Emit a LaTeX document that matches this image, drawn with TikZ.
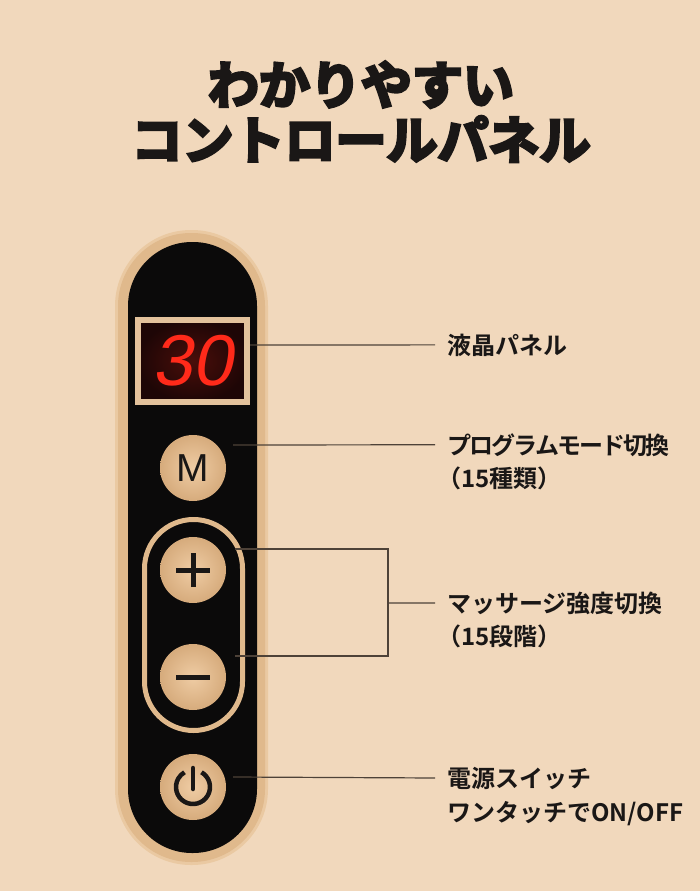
\documentclass[tikz,border=0pt]{standalone}
\usepackage{fontspec}
\setmainfont{Noto Sans CJK JP}
\newfontfamily\titlefont{Noto Sans CJK JP Bold}
\newfontfamily\lblfont{Noto Sans CJK JP Bold}
\newfontfamily\digitfont{Liberation Sans}[FakeSlant=0.18]
\newfontfamily\keyfont{Liberation Sans}
\newcommand\heavytext[1]{\special{pdf:literal direct 2 Tr 3 w}#1\special{pdf:literal direct 0 Tr}}
\newcommand\tk{\kern-2pt}
\usetikzlibrary{positioning}
\definecolor{bg}{HTML}{F1D8BC}
\definecolor{rim}{HTML}{E0B98C}
\definecolor{rimedge}{HTML}{EAC9A2}
\definecolor{body}{HTML}{0B0A0A}
\definecolor{lcdframe}{HTML}{E3C29C}
\definecolor{lcdin}{HTML}{4A0E0A}
\definecolor{lcdout}{HTML}{1E0606}
\definecolor{segred}{HTML}{FF2A1A}
\definecolor{btnlight}{HTML}{EFCCA4}
\definecolor{btndark}{HTML}{D6AB7C}
\definecolor{leadcol}{HTML}{4E4238}
\definecolor{ink}{HTML}{1A1716}

\begin{document}
\begin{tikzpicture}[x=1pt,y=-1pt,
    btn/.style={circle,minimum size=66pt,inner sep=0pt,
      inner color=btnlight,outer color=btndark},
    sym/.style={draw=ink,line width=5pt},
    lead/.style={draw=leadcol,line width=1.2pt},
    lbl/.style={anchor=base west,inner xsep=12pt,inner ysep=0pt,
      text=ink,font=\lblfont\fontsize{24}{24}\selectfont},
    ttl/.style={anchor=base,inner sep=0pt,text=ink,
      font=\titlefont\fontsize{51}{51}\selectfont}]
  \fill[bg] (0,0) rectangle (700,891);
  \useasboundingbox (0,0) rectangle (700,891);

  % title
  \node[ttl] (title1) at (361,104) {\heavytext{わかりやすい}};
  \node[ttl] (title2) at (361,159) {\heavytext{コントロールパネル}};

  % remote body
  \fill[rimedge,rounded corners=76pt] (115,230) rectangle (268,865);
  \fill[rim,rounded corners=73pt] (118,233) rectangle (265,862);
  \fill[body,rounded corners=64pt] (128,242) rectangle (257,853);

  % display
  \node[draw=lcdframe,line width=6pt,inner color=lcdin,outer color=lcdout,
    minimum width=109pt,minimum height=82pt] (lcd) at (192.5,361) {};
  \node[text=segred,font=\digitfont\fontsize{72}{72}\selectfont,inner sep=0pt]
    (digits) at (lcd.center) {30};

  % buttons
  \node[btn] (btnM) at (193,468) {};
  \node[text=ink,font=\keyfont\fontsize{39}{39}\selectfont,inner sep=0pt]
    (keyM) at (btnM.center) {M};
  \draw[draw=rim,line width=5pt,rounded corners=49pt]
    (144.5,519.5) rectangle (242.5,730.5);
  \node[btn] (btnPlus) at (193,570) {};
  \node[btn] (btnMinus) at (193,677) {};
  \node[btn] (btnPower) at (193,787) {};
  \draw[sym] ([xshift=-17pt]btnPlus.center) -- ([xshift=17pt]btnPlus.center);
  \draw[sym] ([yshift=-17pt]btnPlus.center) -- ([yshift=17pt]btnPlus.center);
  \draw[sym] ([xshift=-17pt]btnMinus.center) -- ([xshift=17pt]btnMinus.center);
  \draw[sym,line width=4.5pt] ([shift={(60:17pt)}]btnPower.center)
    arc[start angle=60,end angle=-240,radius=17pt];
  \draw[sym,line width=4.5pt,line cap=round]
    ([yshift=-2pt]btnPower.center) -- ([yshift=19pt]btnPower.center);

  % labels
  \node[lbl] (lblLcd) at (435,354) {液晶パネル};
  \node[lbl] (lblMode) at (435,454)
    {プ\tk ロ\tk グ\tk ラ\tk ム\tk モ\tk ー\tk ド\tk 切\tk 換};
  \node[lbl] (lblModeB) at (435,487) {\kern-10pt（15種類）};
  \node[lbl] (lblLevel) at (435,612) {マッサージ強度切換};
  \node[lbl] (lblLevelB) at (435,645) {\kern-10pt（15段階）};
  \node[lbl] (lblPower) at (435,787) {電源スイッチ};
  \node[lbl] (lblPowerB) at (435,821) {ワンタッチでON/OFF};

  % leader lines
  \coordinate (brkTop) at (388,549);
  \coordinate (brkBot) at (388,656);
  \coordinate (brk) at (388,603);
  \draw[lead] ([yshift=16pt]lcd.east) -- (lblLcd.west);
  \draw[lead] ([xshift=40pt,yshift=23pt]btnM.center) -- (lblMode.west);
  \draw[lead] ([xshift=42pt,yshift=21pt]btnPlus.center) -- (brkTop)
    -- (brkBot) -- ([xshift=42pt,yshift=21pt]btnMinus.center);
  \draw[lead] (brk) -- (lblLevel.west);
  \draw[lead] ([xshift=40pt,yshift=10pt]btnPower.center) -- (lblPower.west);
\end{tikzpicture}
\end{document}
